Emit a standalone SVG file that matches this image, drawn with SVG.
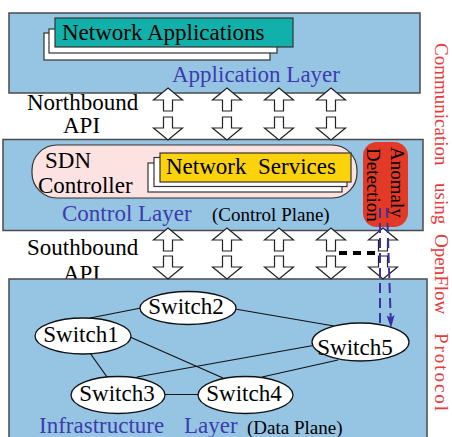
<svg xmlns="http://www.w3.org/2000/svg" width="452" height="437" viewBox="0 0 452 437" font-family="'Liberation Serif', 'DejaVu Serif', serif">
<style>
text{font-family:'Liberation Serif','DejaVu Serif',serif;}
.layer{fill:#96c5e3;stroke:#4a4a4a;stroke-width:1.5;}
.lbl{font-size:23px;fill:#000;}
.blue{font-size:23px;fill:#3c3cae;}
.small{font-size:19px;fill:#000;}
.red{font-size:19px;fill:#e83a3a;}
.card{fill:#ffffff;stroke:#333;stroke-width:1.2;}
.sw{fill:#ffffff;stroke:#111;stroke-width:1.3;}
.edge{stroke:#111;stroke-width:1.2;fill:none;}
.api{fill:#ffffff;stroke:#222;stroke-width:1.2;}
.bdash{stroke:#3a2fa3;stroke-width:2;fill:none;stroke-dasharray:10 5;}
</style>
<defs>
<path id="up" d="M0,0 L14.5,12 L4.5,12 L4.5,23 L-4.5,23 L-4.5,12 L-14.5,12 Z"/>
<path id="down" d="M-4.5,0 L4.5,0 L4.5,11 L14.5,11 L0,23 L-14.5,11 L-4.5,11 Z"/>
<marker id="bhead" markerWidth="14" markerHeight="8" refX="13" refY="4" orient="auto" markerUnits="userSpaceOnUse" viewBox="0 0 14 8">
<path d="M0,0 L13,4 L0,8 L3,4 Z" fill="#3a2fa3"/>
</marker>
</defs>

<g id="application-layer">
<rect class="layer" x="9" y="13" width="411" height="80"/>
<text class="blue" x="172" y="82">Application Layer</text>
</g>

<g id="northbound-label">
<text class="lbl" x="27" y="110">Northbound</text>
<text class="lbl" x="63" y="133">API</text>
</g>

<g id="control-layer">
<rect class="layer" x="3" y="139.5" width="420" height="91"/>
<text class="blue" x="62" y="221">Control Layer</text>
<text class="small" x="212" y="221">(Control Plane)</text>
</g>

<g id="southbound-label">
<text class="lbl" x="27" y="255">Southbound</text>
<text class="lbl" x="63" y="281">API</text>
</g>

<g id="infrastructure-layer">
<rect class="layer" x="9" y="279" width="418" height="170"/>
<text class="blue" x="39" y="433">Infrastructure</text>
<text class="blue" x="184" y="433">Layer</text>
<text class="small" x="247" y="434">(Data Plane)</text>
</g>

<g id="network-applications">
<rect class="card" x="44" y="33" width="226" height="27"/>
<rect class="card" x="49" y="29" width="228" height="24"/>
<rect x="55" y="18" width="238" height="29" fill="#12b0aa" stroke="#333" stroke-width="1.2"/>
<text class="lbl" x="62" y="40">Network Applications</text>
</g>

<g id="sdn-controller">
<rect x="32" y="145" width="325" height="53" rx="25" ry="25" fill="#fde2e2" stroke="#333" stroke-width="1.2"/>
<text class="lbl" x="45" y="168">SDN</text>
<text class="lbl" x="38" y="193">Controller</text>
</g>

<g id="network-services">
<rect class="card" x="148" y="163" width="194" height="29"/>
<rect class="card" x="154" y="157.5" width="193" height="29"/>
<rect x="160" y="153" width="191" height="29" fill="#fcd20c" stroke="#333" stroke-width="1.2"/>
<text class="lbl" x="166" y="174" xml:space="preserve" style="white-space:pre">Network  Services</text>
</g>

<g id="anomaly-detection">
<rect x="363" y="142" width="45" height="85" rx="14" ry="14" fill="#e23a26"/>
<text class="small" transform="translate(391,147) rotate(90)">Anomaly</text>
<text class="small" transform="translate(367,148) rotate(90)">Detection</text>
</g>

<g id="openflow-label">
<text class="red" transform="translate(435,43) rotate(90)">Communication</text>
<text class="red" transform="translate(435,183) rotate(90)">using</text>
<text class="red" transform="translate(435,234) rotate(90)">OpenFlow</text>
<text class="red" transform="translate(435,333) rotate(90)" textLength="78" lengthAdjust="spacing">Protocol</text>
</g>

<g id="connectors">
<g id="northbound-arrows">
<use href="#up" class="api" x="168" y="88"/>
<use href="#up" class="api" x="227" y="88"/>
<use href="#up" class="api" x="279" y="88"/>
<use href="#up" class="api" x="331" y="88"/>
<use href="#down" class="api" x="168" y="117"/>
<use href="#down" class="api" x="227" y="117"/>
<use href="#down" class="api" x="279" y="117"/>
<use href="#down" class="api" x="331" y="117"/>
</g>
<g id="southbound-arrows">
<use href="#up" class="api" x="168" y="228"/>
<use href="#up" class="api" x="227" y="228"/>
<use href="#up" class="api" x="279" y="228"/>
<use href="#up" class="api" x="331" y="228"/>
<use href="#up" class="api" x="383" y="228"/>
<use href="#down" class="api" x="168" y="256"/>
<use href="#down" class="api" x="227" y="256"/>
<use href="#down" class="api" x="279" y="256"/>
<use href="#down" class="api" x="331" y="256"/>
<use href="#down" class="api" x="383" y="256"/>
</g>
<line x1="339" y1="253" x2="375" y2="253" stroke="#000" stroke-width="4" stroke-dasharray="8 6"/>
<line class="bdash" x1="380" y1="208" x2="380" y2="326"/>
<line class="bdash" x1="387" y1="208" x2="391" y2="328" marker-end="url(#bhead)"/>
<g id="switch-links">
<line class="edge" x1="90" y1="318" x2="141" y2="308"/>
<line class="edge" x1="235" y1="309" x2="334" y2="326"/>
<line class="edge" x1="130" y1="337" x2="223" y2="378"/>
<line class="edge" x1="90" y1="353" x2="107" y2="377"/>
<line class="edge" x1="137" y1="377" x2="316" y2="345"/>
<line class="edge" x1="262" y1="377" x2="338" y2="360"/>
<line class="edge" x1="164" y1="394.5" x2="199" y2="394.5"/>
</g>
</g>

<g id="switch1">
<ellipse class="sw" cx="83" cy="336" rx="48" ry="18"/>
<text class="lbl" x="81" y="342" text-anchor="middle">Switch1</text>
</g>
<g id="switch2">
<ellipse class="sw" cx="188" cy="308" rx="48" ry="16.5"/>
<text class="lbl" x="186" y="314" text-anchor="middle">Switch2</text>
</g>
<g id="switch3">
<ellipse class="sw" cx="118" cy="395" rx="47" ry="18.5"/>
<text class="lbl" x="117" y="401" text-anchor="middle">Switch3</text>
</g>
<g id="switch4">
<ellipse class="sw" cx="245.5" cy="395" rx="47.5" ry="18.5"/>
<text class="lbl" x="244" y="401" text-anchor="middle">Switch4</text>
</g>
<g id="switch5">
<ellipse class="sw" cx="360.5" cy="342" rx="48.5" ry="19"/>
<text class="lbl" x="355" y="355" text-anchor="middle">Switch5</text>
</g>
</svg>
